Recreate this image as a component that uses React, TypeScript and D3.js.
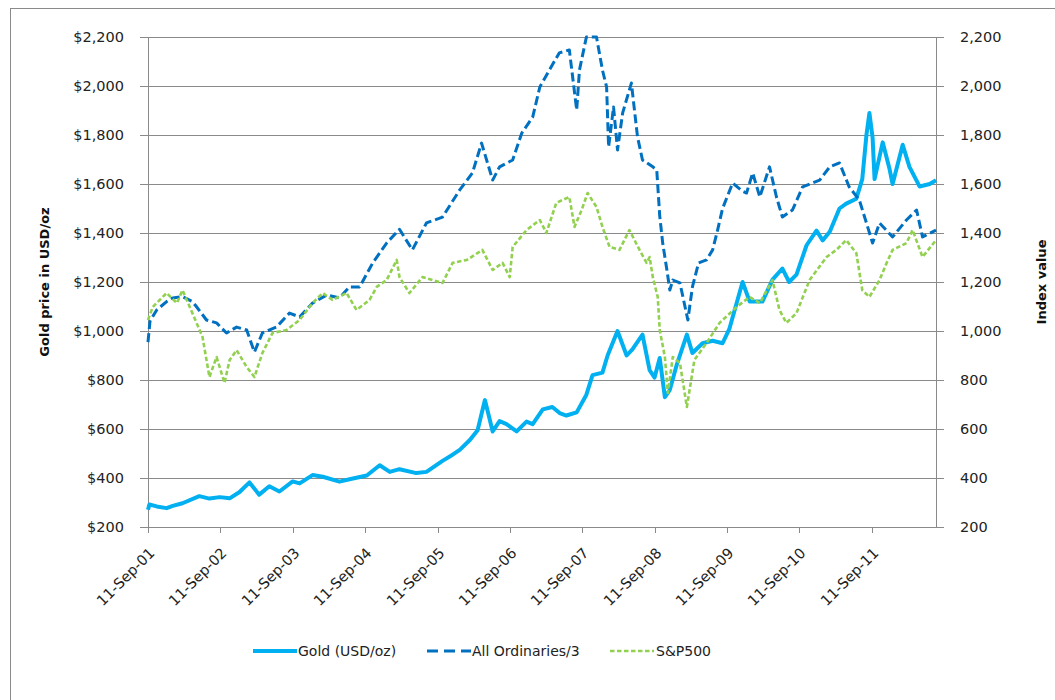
import React from "react";
import * as d3 from "d3";

// values
const goldPrice: [string, number][] = [
  ["2001-09-11", 270], ["2001-09-18", 292], ["2001-10-25", 284], ["2001-12-14", 277],
  ["2002-01-14", 286], ["2002-03-04", 297], ["2002-05-28", 326], ["2002-07-18", 316],
  ["2002-09-08", 322], ["2002-10-28", 317], ["2002-12-17", 343], ["2003-02-05", 382],
  ["2003-03-26", 332], ["2003-05-16", 366], ["2003-07-06", 345], ["2003-09-11", 386],
  ["2003-10-16", 378], ["2003-12-20", 412], ["2004-02-10", 405], ["2004-05-04", 385],
  ["2004-06-24", 395], ["2004-09-19", 410], ["2004-11-23", 452], ["2005-01-13", 425],
  ["2005-03-03", 436], ["2005-05-27", 420], ["2005-07-17", 425], ["2005-10-06", 470],
  ["2005-11-26", 495], ["2006-01-01", 515], ["2006-02-21", 555], ["2006-04-01", 595],
  ["2006-05-08", 718], ["2006-06-01", 640], ["2006-06-16", 590], ["2006-07-21", 632],
  ["2006-08-25", 620], ["2006-10-15", 590], ["2006-12-04", 630], ["2007-01-04", 620],
  ["2007-02-24", 680], ["2007-04-13", 690], ["2007-05-20", 665], ["2007-06-23", 655],
  ["2007-08-14", 668], ["2007-10-02", 740], ["2007-11-02", 820], ["2007-12-22", 830],
  ["2008-01-17", 900], ["2008-03-07", 1000], ["2008-04-22", 900], ["2008-05-21", 925],
  ["2008-07-11", 985], ["2008-08-16", 840], ["2008-09-10", 810], ["2008-10-06", 890],
  ["2008-11-01", 730], ["2008-11-26", 760], ["2009-01-01", 865], ["2009-02-20", 985],
  ["2009-03-20", 910], ["2009-05-10", 950], ["2009-06-30", 960], ["2009-08-19", 950],
  ["2009-09-23", 1010], ["2009-11-28", 1200], ["2010-01-03", 1120], ["2010-03-08", 1120],
  ["2010-04-28", 1210], ["2010-06-17", 1255], ["2010-07-21", 1200], ["2010-08-27", 1230],
  ["2010-10-17", 1350], ["2010-12-06", 1410], ["2011-01-06", 1370], ["2011-02-11", 1405],
  ["2011-04-01", 1500], ["2011-05-05", 1520], ["2011-06-25", 1540], ["2011-07-25", 1620],
  ["2011-08-15", 1800], ["2011-08-30", 1890], ["2011-09-15", 1790], ["2011-09-25", 1620],
  ["2011-11-05", 1770], ["2011-12-10", 1660], ["2011-12-25", 1600], ["2012-02-14", 1760],
  ["2012-03-19", 1670], ["2012-05-09", 1590], ["2012-06-29", 1600], ["2012-07-31", 1615],
];

const allOrdsThird: [string, number][] = [
  ["2001-09-11", 955], ["2001-09-21", 1040], ["2001-10-25", 1086], ["2001-12-14", 1120],
  ["2002-01-14", 1135], ["2002-03-04", 1140], ["2002-04-23", 1120], ["2002-05-13", 1100],
  ["2002-07-03", 1045], ["2002-08-23", 1033], ["2002-10-12", 992], ["2002-12-02", 1016],
  ["2003-01-22", 1004], ["2003-03-02", 914], ["2003-04-11", 992], ["2003-06-21", 1016],
  ["2003-08-26", 1073], ["2003-10-16", 1057], ["2003-12-20", 1114], ["2004-03-01", 1147],
  ["2004-05-04", 1135], ["2004-06-24", 1180], ["2004-08-14", 1180], ["2004-10-19", 1278],
  ["2004-12-28", 1359], ["2005-03-03", 1415], ["2005-05-07", 1331], ["2005-07-17", 1441],
  ["2005-10-06", 1465], ["2006-01-01", 1576], ["2006-03-06", 1645], ["2006-04-21", 1767],
  ["2006-06-16", 1616], ["2006-07-21", 1670], ["2006-09-25", 1698], ["2006-11-10", 1808],
  ["2007-01-04", 1873], ["2007-02-09", 1996], ["2007-03-29", 2065], ["2007-05-18", 2135],
  ["2007-07-08", 2147], ["2007-08-14", 1902], ["2007-08-28", 2065], ["2007-10-02", 2200],
  ["2007-11-22", 2200], ["2007-12-22", 2065], ["2008-01-12", 1996], ["2008-01-22", 1751],
  ["2008-02-16", 1914], ["2008-03-07", 1739], ["2008-04-02", 1890], ["2008-05-16", 2012],
  ["2008-06-16", 1792], ["2008-07-11", 1698], ["2008-09-01", 1670], ["2008-09-21", 1657],
  ["2008-10-06", 1470], ["2008-10-21", 1359], ["2008-11-11", 1250], ["2008-11-26", 1167],
  ["2008-12-11", 1208], ["2009-01-16", 1196], ["2009-02-25", 1045], ["2009-03-20", 1180],
  ["2009-04-20", 1278], ["2009-05-30", 1290], ["2009-06-30", 1331], ["2009-07-25", 1412],
  ["2009-08-19", 1500], ["2009-10-09", 1604], ["2009-11-28", 1570], ["2009-12-18", 1563],
  ["2010-01-18", 1645], ["2010-02-23", 1547], ["2010-04-13", 1670], ["2010-05-18", 1547],
  ["2010-06-17", 1465], ["2010-08-07", 1494], ["2010-09-27", 1588], ["2010-12-22", 1616],
  ["2011-02-11", 1670], ["2011-04-01", 1686], ["2011-05-20", 1588], ["2011-07-10", 1535],
  ["2011-08-15", 1441], ["2011-09-15", 1359], ["2011-10-20", 1441], ["2011-12-25", 1384],
  ["2012-03-04", 1453], ["2012-04-24", 1494], ["2012-05-24", 1384], ["2012-07-31", 1412],
];

const sp500: [string, number][] = [
  ["2001-09-11", 1045], ["2001-10-05", 1098], ["2001-12-14", 1155], ["2002-02-04", 1114],
  ["2002-03-04", 1167], ["2002-04-23", 1073], ["2002-06-13", 976], ["2002-07-18", 812],
  ["2002-08-23", 894], ["2002-10-02", 788], ["2002-10-28", 882], ["2002-12-02", 922],
  ["2003-01-22", 853], ["2003-03-02", 812], ["2003-04-11", 910], ["2003-06-01", 992],
  ["2003-08-11", 1004], ["2003-10-16", 1045], ["2003-12-20", 1114], ["2004-02-10", 1155],
  ["2004-03-30", 1127], ["2004-06-09", 1155], ["2004-07-29", 1086], ["2004-10-03", 1127],
  ["2004-11-08", 1180], ["2004-12-28", 1208], ["2005-02-17", 1290], ["2005-03-03", 1220],
  ["2005-04-22", 1155], ["2005-06-27", 1220], ["2005-10-06", 1196], ["2005-11-26", 1278],
  ["2006-02-06", 1290], ["2006-04-25", 1331], ["2006-06-16", 1249], ["2006-08-05", 1278],
  ["2006-09-10", 1220], ["2006-09-25", 1343], ["2006-12-04", 1412], ["2007-02-09", 1453],
  ["2007-03-14", 1400], ["2007-05-03", 1523], ["2007-07-08", 1547], ["2007-08-03", 1425],
  ["2007-09-08", 1494], ["2007-10-08", 1563], ["2007-11-22", 1506], ["2007-12-22", 1425],
  ["2008-01-27", 1343], ["2008-03-17", 1331], ["2008-05-06", 1412], ["2008-06-26", 1331],
  ["2008-08-01", 1278], ["2008-08-16", 1302], ["2008-09-01", 1220], ["2008-09-26", 1139],
  ["2008-10-06", 1004], ["2008-11-01", 894], ["2008-11-16", 747], ["2008-12-11", 894],
  ["2009-01-16", 869], ["2009-02-20", 690], ["2009-03-30", 882], ["2009-05-30", 951],
  ["2009-08-04", 1033], ["2009-10-29", 1098], ["2010-01-03", 1139], ["2010-02-23", 1114],
  ["2010-04-28", 1208], ["2010-06-02", 1086], ["2010-07-07", 1033], ["2010-08-27", 1073],
  ["2010-11-01", 1208], ["2011-01-26", 1302], ["2011-03-16", 1331], ["2011-05-05", 1371],
  ["2011-06-25", 1318], ["2011-07-25", 1167], ["2011-08-30", 1139], ["2011-10-20", 1208],
  ["2011-11-25", 1278], ["2011-12-25", 1331], ["2012-03-04", 1359], ["2012-04-04", 1412],
  ["2012-05-24", 1302], ["2012-07-31", 1371],
];

const dateTicks = [
  "11-Sep-01", "11-Sep-02", "11-Sep-03", "11-Sep-04", "11-Sep-05", "11-Sep-06",
  "11-Sep-07", "11-Sep-08", "11-Sep-09", "11-Sep-10", "11-Sep-11",
];
const valueTicks = [200, 400, 600, 800, 1000, 1200, 1400, 1600, 1800, 2000, 2200];
const seriesNames = ["Gold (USD/oz)", "All Ordinaries/3", "S&P500"];

const width = 1055;
const height = 700;
const margin = { top: 37, right: 119, bottom: 173, left: 148 };
const font = "DejaVu Sans, sans-serif";

const parseDate = d3.timeParse("%Y-%m-%d");
const parseTick = d3.timeParse("%d-%b-%y");

export default function App() {
  const innerW = width - margin.left - margin.right;
  const innerH = height - margin.top - margin.bottom;

  const x = d3
    .scaleTime()
    .domain([parseDate("2001-09-11")!, parseDate("2012-07-31")!])
    .range([0, innerW]);
  const y = d3.scaleLinear().domain([200, 2200]).range([innerH, 0]);

  const line = d3
    .line<[string, number]>()
    .x((d) => x(parseDate(d[0])!))
    .y((d) => y(d[1]));

  const styles = [
    { color: "#00b0f0", width: 4, dash: "none" },
    { color: "#0070c0", width: 3, dash: "9,4" },
    { color: "#92d050", width: 2.6, dash: "4.5,2.5" },
  ];
  const series = [goldPrice, allOrdsThird, sp500];
  const grey = "#8a8a8a";
  const dollar = d3.format(",");

  // legend layout
  const legendItems = [
    { lineX: 253, textX: 298 },
    { lineX: 427, textX: 472 },
    { lineX: 610, textX: 656 },
  ];

  return (
    <div style={{ position: "fixed", left: 0, top: 0 }}>
      <svg width={width} height={height} style={{ display: "block", background: "#fff" }}>
        <rect x={10.5} y={8.5} width={1100} height={800} fill="none" stroke={grey} />
        <g transform={`translate(${margin.left},${margin.top})`}>
          {valueTicks.map((v) => (
            <g key={v}>
              <line x1={-8} x2={innerW + 8} y1={Math.round(y(v)) + 0.5} y2={Math.round(y(v)) + 0.5} stroke={grey} />
              <text x={-24} y={y(v)} dy="0.36em" textAnchor="end" fontFamily={font} fontSize={14.5} fill="#222">
                ${dollar(v)}
              </text>
              <text x={innerW + 24} y={y(v)} dy="0.36em" textAnchor="start" fontFamily={font} fontSize={14.5} fill="#222">
                {dollar(v)}
              </text>
            </g>
          ))}
          <line x1={0.5} x2={0.5} y1={0} y2={innerH} stroke={grey} />
          <line x1={innerW + 0.5} x2={innerW + 0.5} y1={0} y2={innerH} stroke={grey} />
          {dateTicks.map((t) => {
            const tx = Math.round(x(parseTick(t)!)) + 0.5;
            return (
              <g key={t}>
                <line x1={tx} x2={tx} y1={innerH} y2={innerH + 6} stroke={grey} />
                <text
                  transform={`translate(${tx + 7},${innerH + 27}) rotate(-45)`}
                  textAnchor="end"
                  fontFamily={font}
                  fontSize={14.5}
                  fill="#222"
                >
                  {t}
                </text>
              </g>
            );
          })}
          {series.map((s, i) => (
            <path
              key={i}
              d={line(s) ?? ""}
              fill="none"
              stroke={styles[i].color}
              strokeWidth={styles[i].width}
              strokeDasharray={styles[i].dash}
              strokeLinejoin="round"
            />
          ))}
        </g>
        <text
          transform={`translate(49,${margin.top + innerH / 2}) rotate(-90)`}
          textAnchor="middle"
          fontFamily={font}
          fontSize={13}
          fontWeight="bold"
          fill="#111"
        >
          Gold price in USD/oz
        </text>
        <text
          transform={`translate(1046,${margin.top + innerH / 2}) rotate(-90)`}
          textAnchor="middle"
          fontFamily={font}
          fontSize={13}
          fontWeight="bold"
          fill="#111"
        >
          Index value
        </text>
        {seriesNames.map((name, i) => (
          <g key={name}>
            <line
              x1={legendItems[i].lineX}
              x2={legendItems[i].lineX + 44}
              y1={651}
              y2={651}
              stroke={styles[i].color}
              strokeWidth={styles[i].width}
              strokeDasharray={styles[i].dash === "none" ? "none" : i === 1 ? "11,6" : "4.5,2.5"}
            />
            <text x={legendItems[i].textX} y={651} dy="0.36em" fontFamily={font} fontSize={14} fill="#222">
              {name}
            </text>
          </g>
        ))}
      </svg>
    </div>
  );
}
